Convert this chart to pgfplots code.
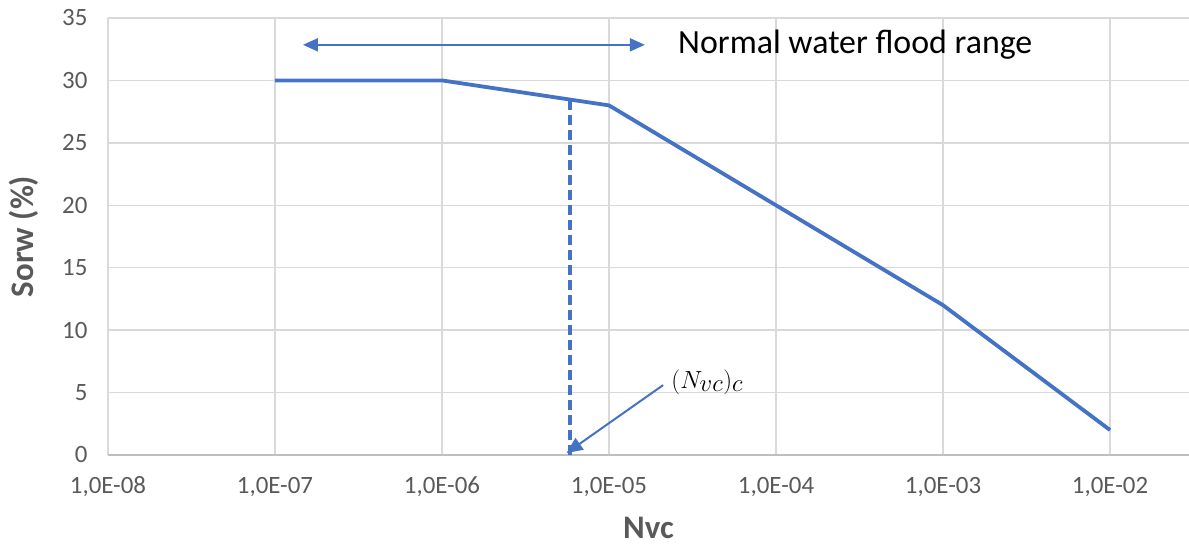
\documentclass[border=0pt]{standalone}
\usepackage{fontspec}
\setmainfont{Carlito}
\usepackage{pgfplots}
\pgfplotsset{compat=1.18}
\usetikzlibrary{arrows.meta}
\definecolor{xblue}{HTML}{4472C4}
\definecolor{xgray}{HTML}{595959}
\definecolor{xgrid}{HTML}{D9D9D9}
\definecolor{xaxis}{HTML}{BFBFBF}
\newcommand{\tickfont}{\fontsize{25}{29}\selectfont}
\begin{document}
\begin{tikzpicture}
\useasboundingbox (-108bp,-91bp) rectangle (1081bp,437bp+18bp);
\begin{axis}[
  at={(0,0)}, anchor=south west,
  scale only axis,
  width=1081bp, height=437bp,
  xmode=log,
  xmin=1e-8, xmax=0.0297,
  ymin=0, ymax=35,
  xtick={1e-8,1e-7,1e-6,1e-5,1e-4,1e-3,1e-2},
  xticklabels={{1,0E-08},{1,0E-07},{1,0E-06},{1,0E-05},{1,0E-04},{1,0E-03},{1,0E-02}},
  minor xtick={},
  ytick={0,5,...,35},
  yticklabels={0,5,10,15,20,25,30,35},
  major tick length=0pt,
  grid=major,
  major grid style={draw=xgrid, line width=1.3bp},
  axis x line=bottom,
  axis y line=left,
  x axis line style={-, draw=xaxis, line width=1.6bp},
  y axis line style={draw=none},
  tick label style={font=\tickfont, text=xgray},
  xticklabel style={anchor=center, yshift=-32bp},
  yticklabel style={anchor=east, xshift=-17bp},
  xlabel={Nvc},
  ylabel={Sorw (\%)},
  label style={font=\fontsize{33}{37}\selectfont\bfseries, text=xgray, inner sep=0pt},
  xlabel style={at={(axis description cs:0.5,0)}, anchor=center, yshift=-73bp},
  ylabel style={at={(axis description cs:0,0.5)}, anchor=center, xshift=0bp, yshift=84bp},
  clip=false,
]
\addplot[xblue, line width=3.8bp, line join=round] coordinates {
  (1e-7,30) (1e-6,30) (1e-5,28) (1e-4,20) (1e-3,12) (1e-2,2)
};
\addplot[xblue, line width=3.8bp, dash pattern=on 10bp off 5bp] coordinates {
  (5.81e-6,0) (5.81e-6,28.45)
};
\draw[xblue, line width=2bp, {Triangle[length=15bp,width=13bp]}-{Triangle[length=15bp,width=13bp]}]
  (axis cs:1.47e-7,32.85) -- (axis cs:1.64e-5,32.85);
\node[anchor=west, font=\fontsize{34}{38}\selectfont, text=black, inner sep=0pt]
  at (axis cs:2.59e-5,32.85) {Normal water flood range};
\draw[xblue, line width=2bp, -{Triangle[length=16bp,width=14bp]}]
  (axis cs:2.11e-5,5.6) -- (axis cs:5.57e-6,0.16);
\node[anchor=west, font=\fontsize{33}{37}\selectfont, text=black, inner sep=0pt]
  at (axis cs:2.36e-5,5.85) {$(N_{vc})_c$};
\end{axis}
\end{tikzpicture}
\end{document}
